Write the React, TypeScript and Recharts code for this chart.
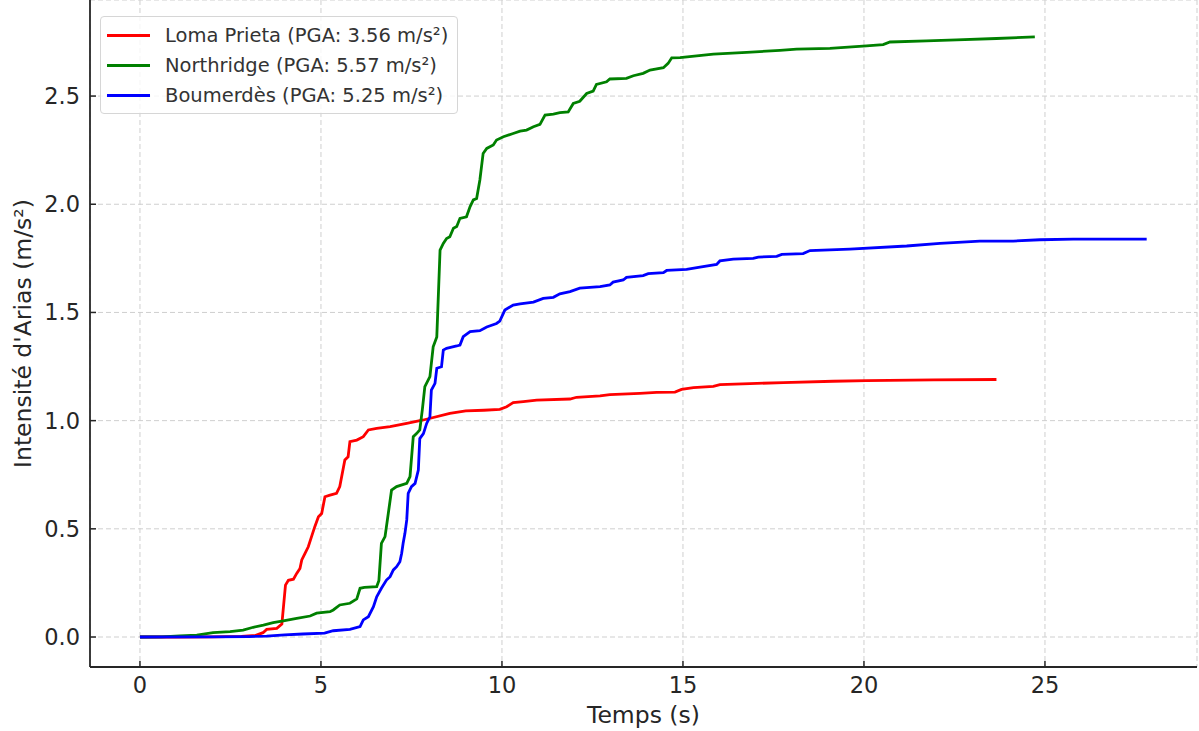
import { LineChart, Line, XAxis, YAxis, CartesianGrid } from 'recharts';

// [time (s), cumulative Arias intensity (m/s²)]
const lomaPrieta: [number, number][] = [
  [0, 0], [1, 0], [2, 0.001], [2.8, 0.003], [3.2, 0.008], [3.4, 0.02], [3.5, 0.035], [3.78, 0.04],
  [3.92, 0.06], [4.02, 0.24], [4.1, 0.262], [4.24, 0.267], [4.33, 0.294], [4.42, 0.317], [4.47, 0.356],
  [4.56, 0.387], [4.65, 0.417], [4.74, 0.464], [4.83, 0.51], [4.93, 0.556], [5.02, 0.571], [5.11, 0.648],
  [5.25, 0.656], [5.43, 0.664], [5.52, 0.695], [5.66, 0.818], [5.75, 0.833], [5.8, 0.903], [5.99, 0.91],
  [6.17, 0.926], [6.31, 0.957], [6.54, 0.964], [6.91, 0.972], [7.37, 0.987], [7.83, 1.003], [8.56, 1.034],
  [9.0, 1.045], [9.5, 1.048], [9.94, 1.052], [10.13, 1.064], [10.31, 1.083], [10.59, 1.088], [10.96, 1.095],
  [11.88, 1.1], [12.06, 1.108], [12.71, 1.114], [12.98, 1.12], [13.81, 1.126], [14.27, 1.131], [14.78, 1.132],
  [14.96, 1.144], [15.29, 1.153], [15.84, 1.158], [16.02, 1.166], [16.85, 1.171], [17.77, 1.176],
  [19.15, 1.182], [20.07, 1.185], [21.92, 1.188], [23.66, 1.19],
];

const northridge: [number, number][] = [
  [0, 0], [0.6, 0.001], [1.1, 0.005], [1.57, 0.009], [2.02, 0.02], [2.49, 0.025], [2.85, 0.032],
  [3.13, 0.045], [3.41, 0.055], [3.68, 0.066], [3.96, 0.075], [4.33, 0.086], [4.7, 0.097], [4.88, 0.11],
  [5.25, 0.117], [5.34, 0.125], [5.52, 0.148], [5.8, 0.156], [5.99, 0.176], [6.08, 0.225], [6.2, 0.229],
  [6.54, 0.233], [6.6, 0.26], [6.67, 0.433], [6.77, 0.464], [6.86, 0.571], [6.95, 0.679], [7.09, 0.695],
  [7.37, 0.71], [7.46, 0.741], [7.55, 0.926], [7.64, 0.94], [7.73, 0.957], [7.8, 1.05], [7.87, 1.157],
  [8.01, 1.203], [8.1, 1.341], [8.2, 1.387], [8.29, 1.788], [8.38, 1.819], [8.47, 1.842], [8.56, 1.85],
  [8.66, 1.889], [8.75, 1.897], [8.84, 1.935], [9.02, 1.942], [9.12, 1.989], [9.21, 2.02], [9.3, 2.027],
  [9.39, 2.112], [9.48, 2.235], [9.58, 2.258], [9.76, 2.274], [9.85, 2.297], [10.04, 2.312], [10.31, 2.327],
  [10.5, 2.338], [10.68, 2.343], [10.87, 2.358], [11.05, 2.369], [11.19, 2.412], [11.42, 2.417],
  [11.6, 2.423], [11.83, 2.427], [11.97, 2.466], [12.15, 2.476], [12.34, 2.512], [12.52, 2.523],
  [12.61, 2.554], [12.89, 2.566], [12.98, 2.579], [13.44, 2.582], [13.63, 2.594], [13.9, 2.605],
  [14.09, 2.62], [14.46, 2.631], [14.59, 2.651], [14.69, 2.677], [14.92, 2.678], [15.84, 2.694],
  [16.76, 2.702], [17.68, 2.711], [18.14, 2.717], [19.06, 2.72], [20.07, 2.732], [20.53, 2.738],
  [20.72, 2.75], [21.73, 2.755], [22.56, 2.76], [23.66, 2.766], [24.72, 2.774],
];

const boumerdes: [number, number][] = [
  [0, 0], [2, 0.001], [3, 0.002], [3.5, 0.004], [4, 0.01], [4.5, 0.014], [5.1, 0.018], [5.34, 0.029],
  [5.8, 0.035], [6.08, 0.048], [6.17, 0.079], [6.31, 0.094], [6.45, 0.14], [6.54, 0.186], [6.67, 0.225],
  [6.81, 0.263], [6.91, 0.279], [7.0, 0.31], [7.09, 0.325], [7.18, 0.348], [7.23, 0.387], [7.27, 0.433],
  [7.32, 0.479], [7.37, 0.541], [7.41, 0.664], [7.5, 0.695], [7.6, 0.71], [7.69, 0.772], [7.73, 0.917],
  [7.83, 0.94], [7.92, 0.987], [8.01, 1.018], [8.05, 1.141], [8.15, 1.172], [8.2, 1.242], [8.33, 1.249],
  [8.38, 1.326], [8.47, 1.334], [8.75, 1.345], [8.84, 1.349], [8.93, 1.388], [9.12, 1.411], [9.39, 1.416],
  [9.58, 1.433], [9.85, 1.449], [9.94, 1.46], [10.08, 1.511], [10.31, 1.534], [10.5, 1.54], [10.87, 1.548],
  [11.14, 1.565], [11.42, 1.57], [11.6, 1.586], [11.88, 1.596], [12.15, 1.612], [12.71, 1.619],
  [12.98, 1.627], [13.07, 1.64], [13.35, 1.65], [13.44, 1.662], [13.9, 1.67], [14.04, 1.679], [14.46, 1.684],
  [14.55, 1.694], [15.1, 1.699], [15.47, 1.71], [15.93, 1.722], [16.02, 1.738], [16.39, 1.746],
  [16.94, 1.75], [17.08, 1.756], [17.59, 1.759], [17.73, 1.768], [18.32, 1.772], [18.51, 1.786],
  [19.61, 1.793], [21.18, 1.807], [22.1, 1.819], [23.2, 1.83], [24.12, 1.83], [24.86, 1.836],
  [25.78, 1.839], [27.81, 1.839],
];

const xTicks = [0, 5, 10, 15, 20, 25];
const yTicks = [0, 0.5, 1, 1.5, 2, 2.5];

const series = [
  { name: 'Loma Prieta (PGA: 3.56 m/s²)', color: '#ff0000', points: lomaPrieta },
  { name: 'Northridge (PGA: 5.57 m/s²)', color: '#008000', points: northridge },
  { name: 'Boumerdès (PGA: 5.25 m/s²)', color: '#0000ff', points: boumerdes },
];

const FONT = '"DejaVu Sans", sans-serif';
const INK = '#262626';

function LegendBox() {
  return (
    <div
      style={{
        position: 'absolute',
        left: 100,
        top: 16,
        width: 358,
        boxSizing: 'border-box',
        background: 'rgba(255,255,255,0.8)',
        border: '1px solid #d6d6d6',
        borderRadius: 4,
        padding: '3px 0 3px 6px',
        fontFamily: FONT,
        fontSize: 19.5,
        color: '#333',
      }}
    >
      {series.map((s) => (
        <div key={s.name} style={{ display: 'flex', alignItems: 'center', height: 30, whiteSpace: 'nowrap' }}>
          <span style={{ display: 'inline-block', width: 43, height: 3, background: s.color, marginRight: 15 }} />
          <span>{s.name}</span>
        </div>
      ))}
    </div>
  );
}

export default function App() {
  return (
    <div style={{ position: 'absolute', left: 0, top: 0, width: 1199, height: 731, background: '#fff' }}>
      <LineChart width={1199} height={731} margin={{ top: 0, right: 2, left: 0, bottom: 0 }}>
        <CartesianGrid stroke="#cfcfcf" strokeDasharray="5 3" strokeWidth={1} />
        <XAxis
          type="number"
          dataKey="t"
          domain={[-1.38, 29.2]}
          ticks={xTicks}
          allowDataOverflow
          height={64}
          axisLine={{ stroke: INK, strokeWidth: 1.8 }}
          tickLine={{ stroke: INK, strokeWidth: 1.5 }}
          tickSize={-6}
          tickMargin={16}
          tick={{ fill: INK, fontSize: 22.5, fontFamily: FONT }}
          label={{ value: 'Temps (s)', position: 'insideBottom', offset: 8, fill: INK, fontSize: 23.5, fontFamily: FONT }}
        />
        <YAxis
          type="number"
          dataKey="v"
          domain={[-0.1386, 2.944]}
          ticks={yTicks}
          allowDataOverflow
          width={90}
          axisLine={{ stroke: INK, strokeWidth: 1.8 }}
          tickLine={{ stroke: INK, strokeWidth: 1.5 }}
          tickSize={-6}
          tickMargin={16}
          tickFormatter={(v: number) => v.toFixed(1)}
          tick={{ fill: INK, fontSize: 22.5, fontFamily: FONT }}
          label={{
            content: ({ viewBox }: any) => {
              const cy = viewBox.y + viewBox.height / 2;
              return (
                <text
                  x={23}
                  y={cy}
                  transform={`rotate(-90 23 ${cy})`}
                  textAnchor="middle"
                  dominantBaseline="central"
                  fill={INK}
                  fontSize={23.5}
                  fontFamily={FONT}
                >
                  Intensité d'Arias (m/s²)
                </text>
              );
            },
          }}
        />
        {series.map((s) => (
          <Line
            key={s.name}
            name={s.name}
            data={s.points.map(([t, v]) => ({ t, v }))}
            dataKey="v"
            type="linear"
            stroke={s.color}
            strokeWidth={2.8}
            dot={false}
            isAnimationActive={false}
          />
        ))}
      </LineChart>
      <LegendBox />
    </div>
  );
}
